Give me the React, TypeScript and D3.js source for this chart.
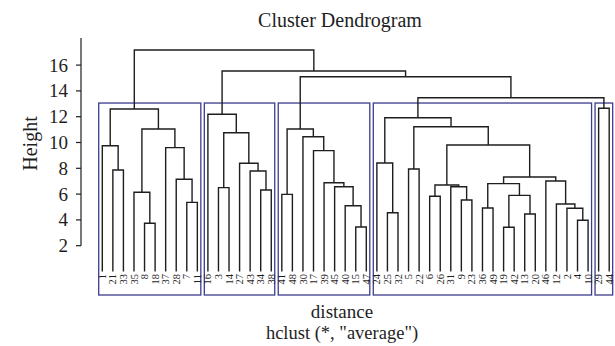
import React from "react";
import * as d3 from "d3";

const leafOrder = [1, 21, 33, 35, 8, 18, 37, 28, 7, 11, 16, 3, 14, 27, 43, 34, 38, 41, 48, 30, 17, 39, 45, 40, 15, 47, 24, 25, 32, 5, 22, 6, 26, 31, 9, 23, 36, 49, 19, 42, 13, 20, 46, 12, 2, 4, 10, 29, 44];

// [node id, left child, right child, height]; numbers are leaves, strings are merges
const merges: [string, number | string, number | string, number][] = [
  ["a1", 8, 18, 3.74],
  ["a2", 7, 11, 5.36],
  ["a3", 35, "a1", 6.14],
  ["a4", 28, "a2", 7.15],
  ["a5", 21, 33, 7.87],
  ["a6", 37, "a4", 9.6],
  ["a7", 1, "a5", 9.75],
  ["a8", "a3", "a6", 11.05],
  ["a9", "a7", "a8", 12.6],
  ["b1", 34, 38, 6.32],
  ["b2", 3, 14, 6.5],
  ["b3", 43, "b1", 7.79],
  ["b4", 27, "b3", 8.39],
  ["b5", "b2", "b4", 10.76],
  ["b6", 16, "b5", 12.19],
  ["c1", 15, 47, 3.45],
  ["c2", 40, "c1", 5.1],
  ["c3", 41, 48, 5.98],
  ["c4", 45, "c2", 6.57],
  ["c5", 39, "c4", 6.88],
  ["c6", 17, "c5", 9.37],
  ["c7", 30, "c6", 10.45],
  ["c8", "c3", "c7", 11.05],
  ["d1", 19, 42, 3.43],
  ["d2", 4, 10, 3.97],
  ["d3", 13, 20, 4.46],
  ["d4", 25, 32, 4.56],
  ["d5", 2, "d2", 4.9],
  ["d6", 36, 49, 4.92],
  ["d7", 12, "d5", 5.23],
  ["d8", 9, 23, 5.54],
  ["d9", 6, 26, 5.83],
  ["d10", "d1", "d3", 5.9],
  ["d11", 31, "d8", 6.57],
  ["d12", "d9", "d11", 6.71],
  ["d13", "d6", "d10", 6.81],
  ["d14", 46, "d7", 7.02],
  ["d15", "d13", "d14", 7.33],
  ["d16", 5, 22, 7.95],
  ["d17", 24, "d4", 8.41],
  ["d18", "d12", "d15", 9.81],
  ["d19", "d16", "d18", 11.22],
  ["d20", "d17", "d19", 11.92],
  ["e1", 29, 44, 12.65],
  ["t1", "d20", "e1", 13.47],
  ["t2", "c8", "t1", 15.1],
  ["t3", "b6", "t2", 15.54],
  ["t4", "a9", "t3", 17.17],
];

const yTicks = [2, 4, 6, 8, 10, 12, 14, 16];
const kClusters = 5;
const title = "Cluster Dendrogram";
const xTitle = "distance";
const subTitle = 'hclust (*, "average")';
const yTitle = "Height";

const FONT = "'Liberation Serif', 'Times New Roman', serif";
const INK = "#1e1e1e";

export default function App() {
  const W = 615, H = 346;
  const x = d3.scaleLinear().domain([0, leafOrder.length - 1]).range([102.3, 609.2]);
  const y = d3.scaleLinear().domain([0, 16]).range([271.5, 65.1]);
  const plotBottom = 295;

  const nodeX = new Map<string | number, number>();
  const nodeH = new Map<string | number, number>();
  leafOrder.forEach((l, i) => { nodeX.set(l, x(i)); nodeH.set(l, 0); });
  const span = new Map<string | number, [number, number]>();
  leafOrder.forEach((l, i) => span.set(l, [i, i]));
  const children = new Map<string, [number | string, number | string]>();
  merges.forEach(([id, a, b, h]) => {
    nodeX.set(id, ((nodeX.get(a) as number) + (nodeX.get(b) as number)) / 2);
    nodeH.set(id, h);
    const sa = span.get(a)!, sb = span.get(b)!;
    span.set(id, [Math.min(sa[0], sb[0]), Math.max(sa[1], sb[1])]);
    children.set(id, [a, b]);
  });

  const heights = merges.map((m) => m[3]).sort((p, q) => q - p);
  const cut = (heights[kClusters - 2] + heights[kClusters - 1]) / 2;
  const rootId = merges[merges.length - 1][0];
  const clusterRoots: (string | number)[] = [];
  const walk = (n: string | number) => {
    if ((nodeH.get(n) as number) < cut) { clusterRoots.push(n); return; }
    const c = children.get(n as string)!;
    walk(c[0]); walk(c[1]);
  };
  walk(rootId);

  const paths = merges.map(([id, a, b, h]) => {
    const xa = nodeX.get(a)!, xb = nodeX.get(b)!;
    const ya = y(nodeH.get(a)!), yb = y(nodeH.get(b)!);
    const yh = y(h);
    return { id, d: `M${xa},${ya}V${yh}H${xb}V${yb}` };
  });

  const step = x(1) - x(0);

  return (
    <svg width={W} height={H} style={{ position: "absolute", left: 0, top: 0, background: "#fff" }}>
      <rect x={0} y={0} width={W} height={H} fill="#fff" />
      <text x={340} y={27} textAnchor="middle" fontFamily={FONT} fontSize={20} fill={INK}>{title}</text>
      {/* y axis */}
      <line x1={81} x2={81} y1={y(yTicks[0])} y2={38} stroke={INK} strokeWidth={1.2} />
      {yTicks.map((t) => (
        <g key={t}>
          <line x1={76} x2={81} y1={y(t)} y2={y(t)} stroke={INK} strokeWidth={1.2} />
          <text x={68} y={y(t)} dy="0.34em" textAnchor="end" fontFamily={FONT} fontSize={19} fill={INK}>{t}</text>
        </g>
      ))}
      <text transform={`translate(37,${143.5}) rotate(-90)`} textAnchor="middle" fontFamily={FONT} fontSize={20} fill={INK}>{yTitle}</text>
      {/* cluster rectangles */}
      {clusterRoots.map((n, i) => {
        const [s0, s1] = span.get(n)!;
        const x0 = x(s0) - 0.34 * step;
        const x1 = x(s1) + 0.33 * step;
        return (
          <rect key={i} x={x0} y={y(cut)} width={x1 - x0} height={plotBottom - y(cut)} fill="none" stroke="#3c3c8e" strokeWidth={1.3} />
        );
      })}
      {/* dendrogram */}
      {paths.map((p) => (
        <path key={p.id} d={p.d} fill="none" stroke={INK} strokeWidth={1.4} />
      ))}
      {/* leaf labels */}
      {leafOrder.map((l, i) => (
        <text key={l} transform={`translate(${x(i)},${274}) rotate(-90)`} textAnchor="end" dy="0.34em" fontFamily={FONT} fontSize={10.5} fill={INK}>{l}</text>
      ))}
      <text x={342} y={318} textAnchor="middle" fontFamily={FONT} fontSize={19} fill={INK}>{xTitle}</text>
      <text x={342} y={339} textAnchor="middle" fontFamily={FONT} fontSize={18.5} fill={INK}>{subTitle}</text>
    </svg>
  );
}
